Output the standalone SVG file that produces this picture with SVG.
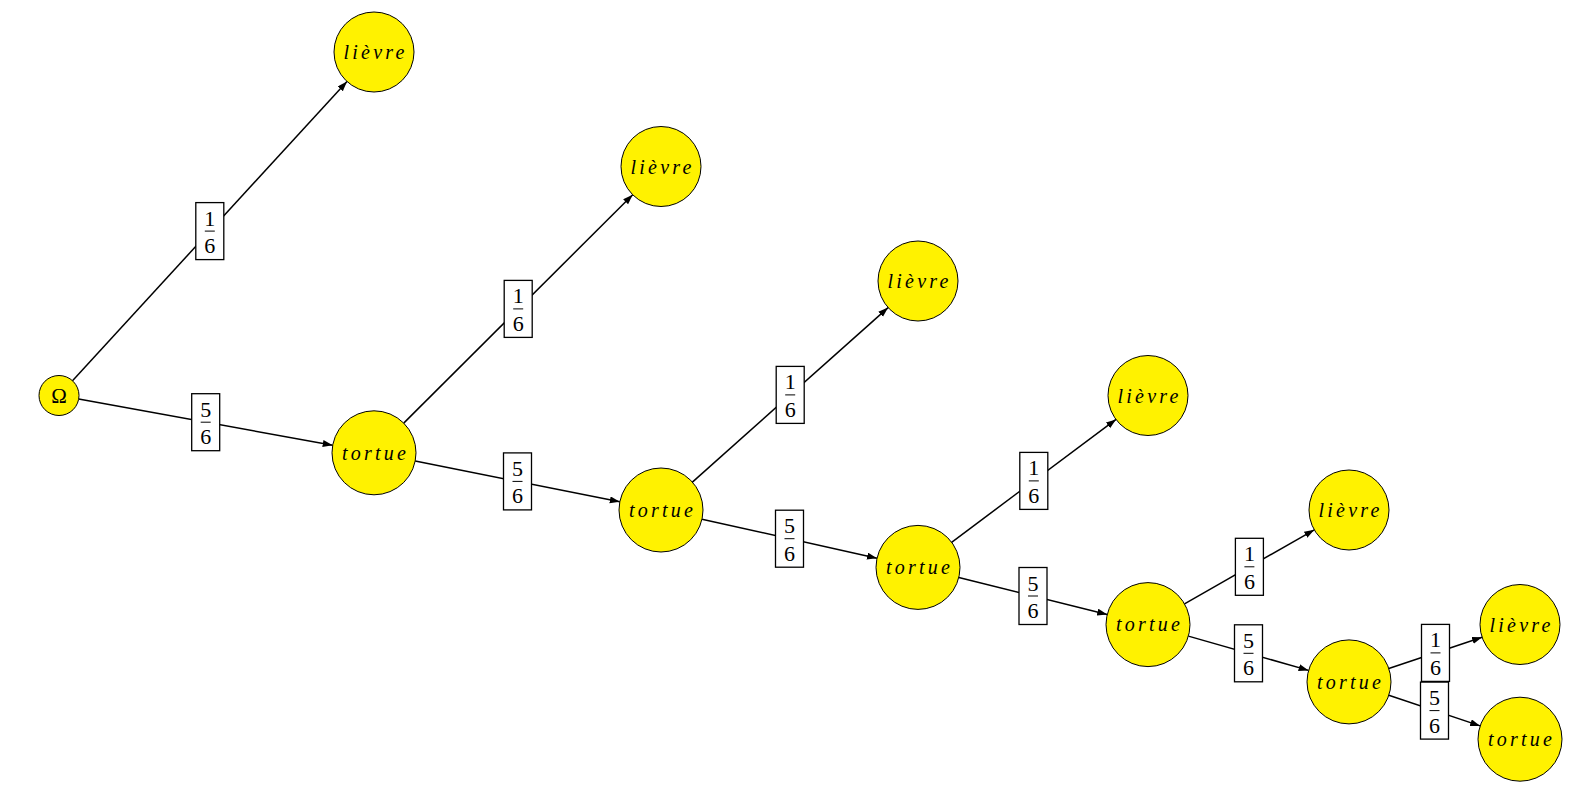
<svg xmlns="http://www.w3.org/2000/svg" width="1577" height="799" viewBox="0 0 1577 799">
<style>
.edge{stroke:#000;stroke-width:1.5;fill:none}
.box{fill:#fff;stroke:#000;stroke-width:1.3}
.bar{stroke:#000;stroke-width:1}
.num{font-family:"Liberation Serif","DejaVu Serif",serif;font-size:22px;text-anchor:middle;fill:#000}
.node{fill:#fff200;stroke:#000;stroke-width:1}
.lbl{font-family:"Liberation Serif","DejaVu Serif",serif;font-style:italic;font-size:20px;letter-spacing:3.2px;text-anchor:middle;fill:#000}
.om{font-family:"Liberation Serif","DejaVu Serif",serif;font-size:21px;text-anchor:middle;fill:#000}
</style>
<defs>
<marker id="arr" markerUnits="userSpaceOnUse" markerWidth="11" markerHeight="8" refX="10" refY="3.5" orient="auto">
<path d="M0,0 L10,3.5 L0,7 z" fill="#000"/>
</marker>
<g id="f16"><rect class="box" x="-14" y="-28.5" width="28" height="57"/><text class="num" x="0" y="-5.5">1</text><line class="bar" x1="-5" y1="0" x2="5" y2="0"/><text class="num" x="0" y="22">6</text></g>
<g id="f56"><rect class="box" x="-14" y="-28.5" width="28" height="57"/><text class="num" x="0" y="-5.5">5</text><line class="bar" x1="-5" y1="0" x2="5" y2="0"/><text class="num" x="0" y="22">6</text></g>
</defs>
<rect width="1577" height="799" fill="#fff"/>
<g id="connectors">
<line class="edge" x1="72.5" y1="380.8" x2="347.0" y2="81.5" marker-end="url(#arr)"/>
<line class="edge" x1="78.7" y1="399.1" x2="332.7" y2="445.3" marker-end="url(#arr)"/>
<line class="edge" x1="403.7" y1="423.1" x2="632.7" y2="194.7" marker-end="url(#arr)"/>
<line class="edge" x1="415.2" y1="461.0" x2="619.8" y2="501.8" marker-end="url(#arr)"/>
<line class="edge" x1="692.4" y1="482.1" x2="888.1" y2="307.6" marker-end="url(#arr)"/>
<line class="edge" x1="702.0" y1="519.2" x2="877.0" y2="558.2" marker-end="url(#arr)"/>
<line class="edge" x1="951.6" y1="542.3" x2="1116.0" y2="419.4" marker-end="url(#arr)"/>
<line class="edge" x1="958.8" y1="577.5" x2="1107.2" y2="614.5" marker-end="url(#arr)"/>
<line class="edge" x1="1184.5" y1="603.8" x2="1314.3" y2="529.8" marker-end="url(#arr)"/>
<line class="edge" x1="1188.4" y1="636.1" x2="1308.6" y2="670.4" marker-end="url(#arr)"/>
<line class="edge" x1="1388.8" y1="668.5" x2="1482.1" y2="637.2" marker-end="url(#arr)"/>
<line class="edge" x1="1388.8" y1="695.2" x2="1480.2" y2="725.9" marker-end="url(#arr)"/>
<use href="#f16" x="209.8" y="231.1"/>
<use href="#f56" x="205.7" y="422.2"/>
<use href="#f16" x="518.2" y="308.9"/>
<use href="#f56" x="517.5" y="481.4"/>
<use href="#f16" x="790.2" y="394.9"/>
<use href="#f56" x="789.5" y="538.7"/>
<use href="#f16" x="1033.8" y="480.9"/>
<use href="#f56" x="1033.0" y="596.0"/>
<use href="#f16" x="1249.4" y="566.8"/>
<use href="#f56" x="1248.5" y="653.3"/>
<use href="#f16" x="1435.5" y="652.9"/>
<use href="#f56" x="1434.5" y="710.6"/>
</g>
<g id="omega"><circle class="node" cx="59" cy="395.5" r="20"/><text class="om" x="59" y="402.5">Ω</text></g>
<g id="lievre1"><circle class="node" cx="374" cy="52" r="40"/><text class="lbl" x="375.6" y="59">lièvre</text></g>
<g id="tortue1"><circle class="node" cx="374" cy="452.8" r="42"/><text class="lbl" x="375.6" y="459.5">tortue</text></g>
<g id="lievre2"><circle class="node" cx="661" cy="166.5" r="40"/><text class="lbl" x="662.6" y="173.5">lièvre</text></g>
<g id="tortue2"><circle class="node" cx="661" cy="510" r="42"/><text class="lbl" x="662.6" y="516.7">tortue</text></g>
<g id="lievre3"><circle class="node" cx="918" cy="281" r="40"/><text class="lbl" x="919.6" y="288">lièvre</text></g>
<g id="tortue3"><circle class="node" cx="918" cy="567.4" r="42"/><text class="lbl" x="919.6" y="574.1">tortue</text></g>
<g id="lievre4"><circle class="node" cx="1148" cy="395.5" r="40"/><text class="lbl" x="1149.6" y="402.5">lièvre</text></g>
<g id="tortue4"><circle class="node" cx="1148" cy="624.6" r="42"/><text class="lbl" x="1149.6" y="631.3">tortue</text></g>
<g id="lievre5"><circle class="node" cx="1349" cy="510" r="40"/><text class="lbl" x="1350.6" y="517">lièvre</text></g>
<g id="tortue5"><circle class="node" cx="1349" cy="681.9" r="42"/><text class="lbl" x="1350.6" y="688.6">tortue</text></g>
<g id="lievre6"><circle class="node" cx="1520" cy="624.5" r="40"/><text class="lbl" x="1521.6" y="631.5">lièvre</text></g>
<g id="tortue6"><circle class="node" cx="1520" cy="739.2" r="42"/><text class="lbl" x="1521.6" y="745.9">tortue</text></g>
</svg>
